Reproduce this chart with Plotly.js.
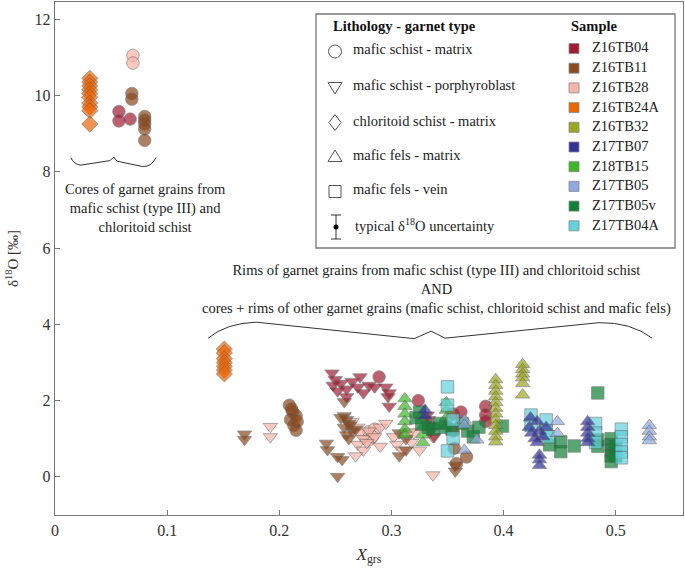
<!DOCTYPE html>
<html>
<head>
<meta charset="utf-8">
<script src="https://cdn.plot.ly/plotly-3.0.1.min.js"></script>
<style>
  body { margin: 0; background: #fff; }
  #plot { width: 685px; height: 571px; }
</style>
</head>
<body>
<div id="plot"></div>
<script>
// samples and colours
var sampleNames = ['Z16TB04', 'Z16TB11', 'Z16TB28', 'Z16TB24A', 'Z16TB32', 'Z17TB07', 'Z18TB15', 'Z17TB05', 'Z17TB05v', 'Z17TB04A'];
var sampleColors = ['#a11d33', '#8b4a1f', '#f9b4a8', '#ec6608', '#9ba621', '#33339a', '#3db728', '#8fa8dd', '#117f35', '#63d1de'];

var typeNames = ['mafic schist - matrix', 'mafic schist - porphyroblast', 'chloritoid schist - matrix', 'mafic fels - matrix', 'mafic fels - vein'];

// Z16TB24A, chloritoid schist (diamonds)
var z24aDiaX = [0.031, 0.031, 0.031, 0.031, 0.031, 0.031, 0.031, 0.031, 0.031, 0.031, 0.151, 0.151, 0.151, 0.151, 0.151, 0.151, 0.151];
var z24aDiaY = [10.45, 10.35, 10.25, 10.15, 10.05, 9.95, 9.8, 9.7, 9.6, 9.25, 3.35, 3.25, 3.1, 3.0, 2.9, 2.8, 2.7];

// Z16TB04
var z04CirX = [0.057, 0.057, 0.067, 0.289, 0.324, 0.362, 0.384, 0.384, 0.384];
var z04CirY = [9.58, 9.33, 9.38, 2.62, 2.0, 1.7, 1.85, 1.62, 1.45];
var z04TriX = [0.247, 0.25, 0.248, 0.255, 0.26, 0.265, 0.27, 0.272, 0.275, 0.28, 0.285, 0.26, 0.252, 0.295, 0.297, 0.298, 0.298, 0.332, 0.333, 0.335, 0.335, 0.338];
var z04TriY = [2.72, 2.55, 2.4, 2.45, 2.3, 2.5, 2.35, 2.62, 2.2, 2.4, 2.35, 2.1, 2.25, 2.35, 2.1, 1.85, 2.2, 1.62, 1.5, 1.35, 1.2, 1.05];

// Z16TB11
var z11CirX = [0.0685, 0.0685, 0.08, 0.08, 0.08, 0.08, 0.08, 0.209, 0.212, 0.215, 0.21, 0.213, 0.215, 0.211, 0.216, 0.355, 0.355, 0.356, 0.367, 0.358];
var z11CirY = [10.05, 9.9, 9.45, 9.35, 9.25, 9.12, 8.82, 1.88, 1.7, 1.6, 1.5, 1.35, 1.22, 1.78, 1.45, 1.65, 1.2, 0.75, 0.52, 0.35];
var z11TriX = [0.169, 0.169, 0.258, 0.26, 0.262, 0.258, 0.265, 0.26, 0.255, 0.263, 0.268, 0.262, 0.258, 0.242, 0.243, 0.252, 0.256, 0.252, 0.307, 0.313, 0.307, 0.313, 0.357, 0.357];
var z11TriY = [1.12, 0.98, 1.6, 1.5, 1.4, 1.3, 1.2, 1.1, 1.55, 1.35, 1.25, 1.0, 1.97, 0.88, 0.71, 0.53, 0.45, 0.01, 1.15, 1.0, 0.55, 0.7, 0.3, 0.15];

// Z16TB28
var z28CirX = [0.0695, 0.0695, 0.28, 0.28, 0.285, 0.283];
var z28CirY = [11.05, 10.85, 1.18, 0.97, 1.25, 1.05];
var z28TriX = [0.192, 0.192, 0.265, 0.27, 0.272, 0.275, 0.27, 0.275, 0.28, 0.285, 0.29, 0.295, 0.268, 0.278, 0.29, 0.302, 0.305, 0.31, 0.318, 0.32, 0.325, 0.337, 0.337, 0.316];
var z28TriY = [1.32, 1.05, 1.45, 1.3, 1.15, 1.0, 0.85, 0.7, 1.2, 1.05, 1.3, 1.4, 0.55, 0.9, 0.8, 1.05, 0.85, 0.7, 0.9, 1.15, 0.7, 1.05, 0.05, 1.18];

// mafic fels - matrix (triangles up)
var z32TriX = [0.393, 0.393, 0.393, 0.393, 0.393, 0.393, 0.393, 0.393, 0.393, 0.393, 0.393, 0.393, 0.417, 0.417, 0.417, 0.417, 0.417, 0.417];
var z32TriY = [2.55, 2.4, 2.25, 2.1, 1.95, 1.8, 1.65, 1.5, 1.35, 1.2, 1.05, 0.92, 2.95, 2.82, 2.7, 2.6, 2.45, 2.15];
var z07TriX = [0.33, 0.33, 0.423, 0.425, 0.428, 0.432, 0.435, 0.43, 0.438, 0.43, 0.424, 0.432, 0.432, 0.432, 0.475, 0.475, 0.475, 0.475, 0.475];
var z07TriY = [1.75, 1.6, 1.3, 1.15, 1.0, 1.2, 1.05, 0.9, 1.3, 1.45, 1.55, 0.57, 0.45, 0.3, 1.45, 1.3, 1.15, 1.0, 0.9];
var z15TriX = [0.312, 0.312, 0.312, 0.312, 0.312, 0.312, 0.328, 0.328, 0.328, 0.349, 0.349, 0.349, 0.349];
var z15TriY = [2.05, 1.85, 1.65, 1.45, 1.25, 1.1, 1.3, 1.1, 0.9, 1.95, 1.75, 1.55, 1.35];
var z05TriX = [0.448, 0.448, 0.53, 0.53, 0.53, 0.53, 0.365, 0.376, 0.365, 0.365];
var z05TriY = [1.45, 1.14, 1.35, 1.2, 1.05, 0.95, 1.49, 0.97, 0.7, 1.36];

// mafic fels - vein (squares)
var z05vSqX = [0.322, 0.327, 0.333, 0.325, 0.337, 0.343, 0.348, 0.354, 0.363, 0.368, 0.373, 0.378, 0.399, 0.441, 0.451, 0.451, 0.463, 0.484, 0.484, 0.484, 0.496, 0.496, 0.496, 0.496, 0.496, 0.5, 0.5];
var z05vSqY = [1.55, 1.4, 1.3, 1.7, 1.25, 1.4, 1.3, 1.25, 1.4, 1.2, 1.05, 1.3, 1.33, 0.84, 0.92, 0.66, 0.81, 2.2, 0.97, 0.8, 1.0, 0.85, 0.7, 0.55, 0.4, 0.8, 0.55];
var z04aSqX = [0.35, 0.35, 0.355, 0.355, 0.35, 0.4245, 0.4245, 0.438, 0.438, 0.44, 0.482, 0.482, 0.482, 0.505, 0.505, 0.505, 0.505, 0.505];
var z04aSqY = [2.36, 1.88, 1.49, 1.02, 0.68, 1.62, 1.35, 1.49, 1.2, 1.05, 1.4, 1.15, 0.9, 1.25, 1.05, 0.85, 0.65, 0.5];

var serif = '"Liberation Serif", "Times New Roman", Times, serif';
var txtSize = 14.5;

function pts(x, y, sample, symbol) {
    var c = sampleColors[sampleNames.indexOf(sample)];
    return {
        x: x, y: y, type: 'scatter', mode: 'markers', name: sample,
        showlegend: false, hoverinfo: 'x+y+name',
        marker: { symbol: symbol, size: 12.5, color: c, opacity: 0.7, line: { color: '#555', width: 0.7 } }
    };
}

var data = [
    pts(z24aDiaX, z24aDiaY, 'Z16TB24A', 'diamond'),
    pts(z11CirX, z11CirY, 'Z16TB11', 'circle'),
    pts(z28CirX, z28CirY, 'Z16TB28', 'circle'),
    pts(z28TriX, z28TriY, 'Z16TB28', 'triangle-down'),
    pts(z11TriX, z11TriY, 'Z16TB11', 'triangle-down'),
    pts(z04TriX, z04TriY, 'Z16TB04', 'triangle-down'),
    pts(z04CirX, z04CirY, 'Z16TB04', 'circle'),
    pts(z15TriX, z15TriY, 'Z18TB15', 'triangle-up'),
    pts(z05vSqX, z05vSqY, 'Z17TB05v', 'square'),
    pts(z04aSqX, z04aSqY, 'Z17TB04A', 'square'),
    pts(z05TriX, z05TriY, 'Z17TB05', 'triangle-up'),
    pts(z07TriX, z07TriY, 'Z17TB07', 'triangle-up'),
    pts(z32TriX, z32TriY, 'Z16TB32', 'triangle-up')
];

// pixel -> paper helpers for the legend box
var L = 55, R = 683, T = 2, B = 515;
function xp(p) { return (p - L) / (R - L); }
function yp(p) { return (B - p) / (B - T); }

var shapes = [];
var annotations = [];

// braces
shapes.push({ type: 'path', xref: 'x', yref: 'y', xsizemode: 'pixel', ysizemode: 'pixel', xanchor: 0.0525, yanchor: 8.37,
    path: 'M -43,0 Q -40,-7 -33,-7.5 L -4,-3 L 0,0.5 L 3,-3.5 L 29,-9 Q 38,-9 42,0', line: { color: '#333', width: 1 } });
shapes.push({ type: 'path', xref: 'x', yref: 'y', xsizemode: 'pixel', ysizemode: 'pixel', xanchor: 0.3354, yanchor: 3.82,
    path: 'M -223,-7 Q -205,8 -175,9 L -17,-7.5 L 0,0 L 14,-7 L 168,8.5 Q 200,9 221,-7', line: { color: '#333', width: 1 } });

annotations.push({ xref: 'x', yref: 'y', x: 0.081, y: 7.06, showarrow: false, align: 'center',
    text: 'Cores of garnet grains from<br>mafic schist (type III) and<br>chloritoid schist', font: { family: serif, size: txtSize, color: '#222' } });
annotations.push({ xref: 'x', yref: 'y', x: 0.34, y: 4.9, showarrow: false, align: 'center',
    text: 'Rims of garnet grains from mafic schist (type III) and chloritoid schist<br>AND<br>cores + rims of other garnet grains (mafic schist, chloritoid schist and mafic fels)',
    font: { family: serif, size: txtSize, color: '#222' } });

// legend box
shapes.push({ type: 'rect', xref: 'paper', yref: 'paper', x0: xp(316), x1: xp(675), y0: yp(248), y1: yp(14),
    line: { color: '#777', width: 1.3 }, fillcolor: 'rgba(0,0,0,0)' });

annotations.push({ xref: 'paper', yref: 'paper', x: xp(331), y: yp(26), xanchor: 'left', yanchor: 'middle', showarrow: false,
    text: '<b>Lithology - garnet type</b>', font: { family: serif, size: txtSize, color: '#111' } });
annotations.push({ xref: 'paper', yref: 'paper', x: xp(569), y: yp(26), xanchor: 'left', yanchor: 'middle', showarrow: false,
    text: '<b>Sample</b>', font: { family: serif, size: txtSize, color: '#111' } });

var typeRows = [51.5, 87.5, 122.5, 156.5, 191.5];
var typePaths = [
    null,
    'M -7,5 L 7,5 L 0,-6.5 Z',
    'M 0,8 L 6,0 L 0,-8 L -6,0 Z',
    'M -7,-5 L 7,-5 L 0,6.5 Z',
    'M -6,-6 L 6,-6 L 6,6 L -6,6 Z'
];
typeNames.forEach(function (t, i) {
    if (typePaths[i]) {
        shapes.push({ type: 'path', xref: 'paper', yref: 'paper', xsizemode: 'pixel', ysizemode: 'pixel',
            xanchor: xp(335), yanchor: yp(typeRows[i]), path: typePaths[i], line: { color: '#555', width: 1 } });
    } else {
        shapes.push({ type: 'circle', xref: 'paper', yref: 'paper', xsizemode: 'pixel', ysizemode: 'pixel',
            xanchor: xp(335), yanchor: yp(typeRows[i]), x0: -6.5, x1: 6.5, y0: -6.5, y1: 6.5, line: { color: '#555', width: 1 } });
    }
    annotations.push({ xref: 'paper', yref: 'paper', x: xp(351), y: yp(typeRows[i] - 2), xanchor: 'left', yanchor: 'middle',
        showarrow: false, text: t, font: { family: serif, size: txtSize, color: '#222' } });
});

// uncertainty symbol
shapes.push({ type: 'path', xref: 'paper', yref: 'paper', xsizemode: 'pixel', ysizemode: 'pixel',
    xanchor: xp(336), yanchor: yp(227), path: 'M 0,-12 L 0,12 M -5,12 L 5,12 M -5,-12 L 5,-12', line: { color: '#333', width: 1 } });
shapes.push({ type: 'circle', xref: 'paper', yref: 'paper', xsizemode: 'pixel', ysizemode: 'pixel',
    xanchor: xp(336), yanchor: yp(227), x0: -2.5, x1: 2.5, y0: -2.5, y1: 2.5, fillcolor: '#000', line: { color: '#000', width: 0 } });
annotations.push({ xref: 'paper', yref: 'paper', x: xp(353), y: yp(225), xanchor: 'left', yanchor: 'middle', showarrow: false,
    text: 'typical δ<sup>18</sup>O uncertainty', font: { family: serif, size: txtSize, color: '#222' } });

// sample colours
sampleNames.forEach(function (s, i) {
    var row = 48.5 + i * 19.7;
    shapes.push({ type: 'rect', xref: 'paper', yref: 'paper', xsizemode: 'pixel', ysizemode: 'pixel',
        xanchor: xp(574), yanchor: yp(row), x0: -5, x1: 5, y0: -5, y1: 5,
        fillcolor: sampleColors[i], line: { color: '#888', width: 0.8 } });
    annotations.push({ xref: 'paper', yref: 'paper', x: xp(590), y: yp(row - 1), xanchor: 'left', yanchor: 'middle',
        showarrow: false, text: s, font: { family: serif, size: txtSize, color: '#222' } });
});

var layout = {
    width: 685, height: 571,
    margin: { l: L, r: 685 - R, t: T, b: 571 - B },
    paper_bgcolor: '#fff', plot_bgcolor: '#fff',
    showlegend: false,
    font: { family: serif, size: 15, color: '#333' },
    xaxis: {
        range: [0, 0.56], tickvals: [0, 0.1, 0.2, 0.3, 0.4, 0.5], ticktext: ['0', '0.1', '0.2', '0.3', '0.4', '0.5'],
        ticks: 'inside', ticklen: 5, tickcolor: '#777', showgrid: false, zeroline: false,
        showline: true, linecolor: '#777', linewidth: 1.3, mirror: true,
        tickfont: { family: serif, size: 16, color: '#333' },
        title: { text: '<i>X</i><sub>grs</sub>', font: { family: serif, size: 17, color: '#333' }, standoff: 10 }
    },
    yaxis: {
        range: [-1, 12.45], tickvals: [0, 2, 4, 6, 8, 10, 12],
        ticks: 'inside', ticklen: 5, tickcolor: '#777', showgrid: false, zeroline: false,
        showline: true, linecolor: '#777', linewidth: 1.3, mirror: true,
        tickfont: { family: serif, size: 16, color: '#333' },
        title: { text: 'δ<sup>18</sup>O [‰]', font: { family: serif, size: 15, color: '#333' }, standoff: 12 }
    },
    shapes: shapes,
    annotations: annotations
};

Plotly.newPlot('plot', data, layout, { displayModeBar: false, staticPlot: true });
</script>
</body>
</html>
